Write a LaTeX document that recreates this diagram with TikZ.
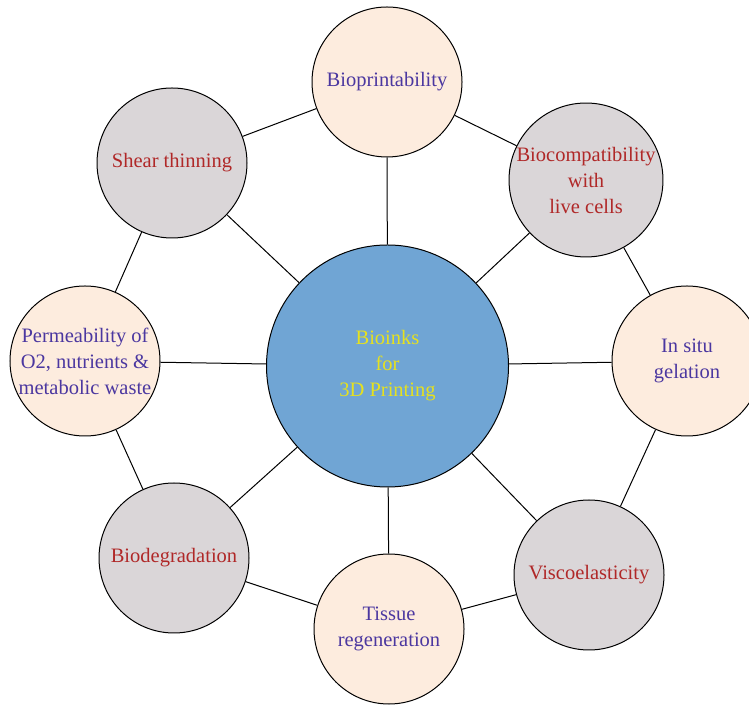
\documentclass[tikz,border=0pt]{standalone}
\usepackage{fontspec}
\setmainfont{Liberation Serif}
\definecolor{peach}{RGB}{253,236,222}
\definecolor{grayfill}{RGB}{218,214,216}
\definecolor{hubblue}{RGB}{112,165,212}
\definecolor{purpletext}{RGB}{75,55,160}
\definecolor{redtext}{RGB}{176,40,40}
\definecolor{yellowtext}{RGB}{230,225,30}
\begin{document}
\begin{tikzpicture}[x=1bp,y=1bp,
  base/.style={circle,draw=black,line width=1bp,inner sep=0pt,align=center,
    font=\fontsize{20.5bp}{26bp}\selectfont},
  peachnode/.style={base,fill=peach,text=purpletext,minimum size=150bp},
  graynode/.style={base,fill=grayfill,text=redtext,minimum size=150bp},
  hubnode/.style={base,fill=hubblue,text=yellowtext,minimum size=242bp},
  link/.style={draw=black,line width=1bp}]
\useasboundingbox (0,0) rectangle (749,705);
\node[hubnode] (hub) at (387.5,339) {Bioinks\\for\\3D Printing};
\node[peachnode] (bp) at (387,623) {Bioprintability};
\node[graynode] (bc) at (586,525) {Biocompatibility\\with\\live cells};
\node[peachnode] (is) at (687,344) {In situ\\gelation};
\node[graynode] (ve) at (589,130) {Viscoelasticity};
\node[peachnode] (tr) at (389,76) {Tissue\\regeneration};
\node[graynode] (bd) at (174,147) {Biodegradation};
\node[peachnode] (pm) at (85,344) {Permeability of\\O2, nutrients \&\\metabolic waste};
\node[graynode] (st) at (172,542) {Shear thinning};
\foreach \n in {bp,bc,is,ve,tr,bd,pm,st}{\draw[link] (hub) -- (\n);}
\draw[link] (bp) -- (bc);
\draw[link] (bc) -- (is);
\draw[link] (is) -- (ve);
\draw[link] (ve) -- (tr);
\draw[link] (tr) -- (bd);
\draw[link] (bd) -- (pm);
\draw[link] (pm) -- (st);
\draw[link] (st) -- (bp);
\end{tikzpicture}
\end{document}
